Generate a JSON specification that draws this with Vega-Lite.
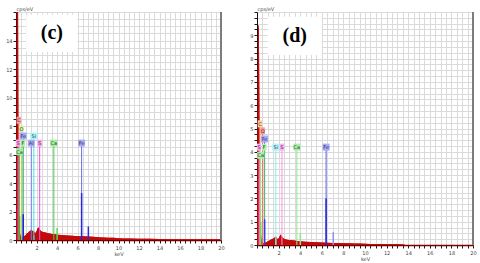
{
  "$schema": "https://vega.github.io/schema/vega-lite/v6.json",
  "padding": {"left": 5, "top": 5, "right": 5, "bottom": 0},
  "spacing": 24,
  "background": "white",
  "config": {
    "view": {"stroke": "#c4c4c4", "strokeWidth": 1},
    "font": "DejaVu Sans",
    "axis": {
      "labelFontSize": 5,
      "labelColor": "#444444",
      "labelFont": "DejaVu Sans",
      "tickColor": "#1a1a1a",
      "tickSize": 3,
      "gridColor": "#dadada",
      "gridWidth": 1,
      "titleFontSize": 5,
      "titleFontWeight": "normal",
      "titleColor": "#444444",
      "titleFont": "DejaVu Sans",
      "labelOverlap": false,
      "labelFlush": false,
      "format": "~g"
    }
  },
  "resolve": {"scale": {"color": "independent", "fill": "independent", "stroke": "independent"}},
  "datasets": {
    "specC": [
      {"keV": 0, "cps": 0}, {"keV": 0.04, "cps": 3}, {"keV": 0.08, "cps": 17}, {"keV": 0.2, "cps": 17}, {"keV": 0.24, "cps": 7}, {"keV": 0.28, "cps": 2.5}, {"keV": 0.32, "cps": 1.0}, {"keV": 0.38, "cps": 0.5}, {"keV": 0.45, "cps": 0.3}, {"keV": 0.55, "cps": 0.22}, {"keV": 0.65, "cps": 0.2}, {"keV": 0.75, "cps": 0.25}, {"keV": 0.85, "cps": 0.3}, {"keV": 0.95, "cps": 0.35}, {"keV": 1.05, "cps": 0.45}, {"keV": 1.15, "cps": 0.5}, {"keV": 1.25, "cps": 0.58}, {"keV": 1.35, "cps": 0.62}, {"keV": 1.45, "cps": 0.68}, {"keV": 1.55, "cps": 0.7}, {"keV": 1.65, "cps": 0.6}, {"keV": 1.75, "cps": 0.62}, {"keV": 1.85, "cps": 0.5}, {"keV": 1.95, "cps": 0.52}, {"keV": 2.05, "cps": 0.7}, {"keV": 2.15, "cps": 0.88}, {"keV": 2.25, "cps": 0.85}, {"keV": 2.35, "cps": 0.7}, {"keV": 2.5, "cps": 0.6}, {"keV": 2.7, "cps": 0.55}, {"keV": 2.9, "cps": 0.52}, {"keV": 3.1, "cps": 0.48}, {"keV": 3.3, "cps": 0.45}, {"keV": 3.5, "cps": 0.42}, {"keV": 3.8, "cps": 0.4}, {"keV": 4.1, "cps": 0.37}, {"keV": 4.4, "cps": 0.35}, {"keV": 4.7, "cps": 0.33}, {"keV": 5.0, "cps": 0.31}, {"keV": 5.5, "cps": 0.29}, {"keV": 6.0, "cps": 0.27}, {"keV": 6.5, "cps": 0.26}, {"keV": 7.0, "cps": 0.24}, {"keV": 7.5, "cps": 0.22}, {"keV": 8.0, "cps": 0.2}, {"keV": 8.5, "cps": 0.18}, {"keV": 9.0, "cps": 0.16}, {"keV": 9.5, "cps": 0.15}, {"keV": 10.0, "cps": 0.13}, {"keV": 10.5, "cps": 0.11}, {"keV": 11, "cps": 0.1}, {"keV": 12, "cps": 0.09}, {"keV": 13, "cps": 0.08}, {"keV": 14, "cps": 0.07}, {"keV": 15, "cps": 0.06}, {"keV": 16, "cps": 0.06}, {"keV": 17, "cps": 0.05}, {"keV": 18, "cps": 0.05}, {"keV": 19, "cps": 0.05}, {"keV": 20, "cps": 0.05}
    ],
    "specD": [
      {"keV": 0, "cps": 0}, {"keV": 0.04, "cps": 3}, {"keV": 0.08, "cps": 9.0}, {"keV": 0.12, "cps": 9.45}, {"keV": 0.17, "cps": 9.4}, {"keV": 0.21, "cps": 7}, {"keV": 0.25, "cps": 3.5}, {"keV": 0.3, "cps": 1.2}, {"keV": 0.36, "cps": 0.5}, {"keV": 0.42, "cps": 0.25}, {"keV": 0.5, "cps": 0.12}, {"keV": 0.6, "cps": 0.08}, {"keV": 0.75, "cps": 0.1}, {"keV": 0.9, "cps": 0.13}, {"keV": 1.0, "cps": 0.16}, {"keV": 1.1, "cps": 0.18}, {"keV": 1.2, "cps": 0.2}, {"keV": 1.3, "cps": 0.24}, {"keV": 1.4, "cps": 0.26}, {"keV": 1.5, "cps": 0.28}, {"keV": 1.6, "cps": 0.3}, {"keV": 1.7, "cps": 0.36}, {"keV": 1.8, "cps": 0.32}, {"keV": 1.9, "cps": 0.26}, {"keV": 2.0, "cps": 0.28}, {"keV": 2.1, "cps": 0.38}, {"keV": 2.2, "cps": 0.45}, {"keV": 2.3, "cps": 0.38}, {"keV": 2.4, "cps": 0.3}, {"keV": 2.6, "cps": 0.25}, {"keV": 2.8, "cps": 0.22}, {"keV": 3.0, "cps": 0.21}, {"keV": 3.3, "cps": 0.2}, {"keV": 3.6, "cps": 0.18}, {"keV": 4.0, "cps": 0.16}, {"keV": 4.5, "cps": 0.14}, {"keV": 5.0, "cps": 0.13}, {"keV": 5.5, "cps": 0.12}, {"keV": 6.0, "cps": 0.11}, {"keV": 6.5, "cps": 0.1}, {"keV": 7.0, "cps": 0.09}, {"keV": 7.5, "cps": 0.085}, {"keV": 8.0, "cps": 0.08}, {"keV": 8.5, "cps": 0.07}, {"keV": 9.0, "cps": 0.065}, {"keV": 9.5, "cps": 0.06}, {"keV": 10.0, "cps": 0.055}, {"keV": 10.5, "cps": 0.045}, {"keV": 11, "cps": 0.04}, {"keV": 12, "cps": 0.035}, {"keV": 13, "cps": 0.03}, {"keV": 13.6, "cps": 0.025}, {"keV": 13.7, "cps": 0}, {"keV": 20, "cps": 0}
    ],
    "markC": [
      {"el": "C", "keV": 0.277, "cps": 8.4},
      {"el": "O", "keV": 0.525, "cps": 7.8},
      {"el": "Fe", "keV": 0.705, "cps": 7.3},
      {"el": "S", "keV": 0.2, "cps": 6.8},
      {"el": "F", "keV": 0.677, "cps": 6.8},
      {"el": "Ca", "keV": 0.341, "cps": 6.2},
      {"el": "Al", "keV": 1.49, "cps": 6.8},
      {"el": "Si", "keV": 1.74, "cps": 7.3},
      {"el": "S", "keV": 2.31, "cps": 6.8},
      {"el": "Ca", "keV": 3.69, "cps": 6.8},
      {"el": "Fe", "keV": 6.4, "cps": 6.8}
    ],
    "markD": [
      {"el": "C", "keV": 0.277, "cps": 5.2},
      {"el": "O", "keV": 0.525, "cps": 4.9},
      {"el": "Fe", "keV": 0.705, "cps": 4.55},
      {"el": "S", "keV": 0.2, "cps": 4.2},
      {"el": "F", "keV": 0.677, "cps": 4.2},
      {"el": "Ca", "keV": 0.341, "cps": 3.85},
      {"el": "Si", "keV": 1.74, "cps": 4.2},
      {"el": "S", "keV": 2.31, "cps": 4.2},
      {"el": "Ca", "keV": 3.69, "cps": 4.2},
      {"el": "Fe", "keV": 6.4, "cps": 4.2}
    ],
    "peakC": [
      {"line": "CaL", "keV": 0.341, "cps": 1.7},
      {"line": "FeL", "keV": 0.705, "cps": 1.8},
      {"line": "SiKa", "keV": 1.74, "cps": 0.3},
      {"line": "CaKb", "keV": 4.01, "cps": 0.85},
      {"line": "FeKa", "keV": 6.4, "cps": 3.3},
      {"line": "FeKb", "keV": 7.06, "cps": 0.95}
    ],
    "peakD": [
      {"line": "CaL", "keV": 0.341, "cps": 1.0},
      {"line": "FeL", "keV": 0.705, "cps": 1.1},
      {"line": "SiKa", "keV": 1.74, "cps": 0.3},
      {"line": "CaKb", "keV": 4.01, "cps": 0.5},
      {"line": "FeKa", "keV": 6.4, "cps": 2.0},
      {"line": "FeKb", "keV": 7.06, "cps": 0.55}
    ]
  },
  "hconcat": [
    {
      "width": 205,
      "height": 228,
      "layer": [
        {
          "data": {"name": "specC"},
          "mark": {"type": "area", "color": "#c20a0a", "clip": true},
          "encoding": {
            "x": {"field": "keV", "type": "quantitative", "scale": {"domain": [0, 20], "nice": false, "zero": false},
              "axis": {"title": "keV", "titlePadding": 1, "labelPadding": 2, "domainColor": "#7a0000", "domainWidth": 1.5, "tickCount": 500, "format": "~g",
                "values": [0,0.5,1,1.5,2,2.5,3,3.5,4,4.5,5,5.5,6,6.5,7,7.5,8,8.5,9,9.5,10,10.5,11,11.5,12,12.5,13,13.5,14,14.5,15,15.5,16,16.5,17,17.5,18,18.5,19,19.5,20],
                "labelExpr": "datum.value % 2 == 0 && datum.value > 0 ? datum.label : ''"}},
            "y": {"field": "cps", "type": "quantitative", "scale": {"domain": [0, 16], "nice": false},
              "axis": {"title": "cps/eV", "titleAngle": 0, "titleAlign": "left", "titleBaseline": "bottom", "titleX": 0, "titleY": -1, "tickCount": 500, "format": "~g",
                "labelPadding": 1, "domainColor": "#111111",
                "values": [0,0.5,1,1.5,2,2.5,3,3.5,4,4.5,5,5.5,6,6.5,7,7.5,8,8.5,9,9.5,10,10.5,11,11.5,12,12.5,13,13.5,14,14.5,15,15.5,16],
                "labelExpr": "datum.value % 2 == 0 && datum.value < 16 ? datum.label : ''"}}
          }
        },
        {
          "data": {"values": [{"label": "(c)"}]},
          "mark": {"type": "rect", "fill": "white"},
          "encoding": {"x": {"datum": 1.0}, "x2": {"datum": 6.0}, "y": {"datum": 13.2}, "y2": {"datum": 15.8}}
        },
        {
          "data": {"values": [{"label": "(c)"}]},
          "mark": {"type": "text", "font": "Liberation Serif", "fontWeight": "bold", "fontSize": 20, "color": "#000000", "baseline": "middle", "align": "center"},
          "encoding": {"x": {"datum": 3.5}, "y": {"datum": 14.5}, "text": {"field": "label"}}
        },
        {
          "data": {"name": "specC"},
          "mark": {"type": "area", "color": "#c20a0a", "clip": true},
          "encoding": {"x": {"field": "keV", "type": "quantitative"}, "y": {"field": "cps", "type": "quantitative"}}
        },
        {
          "data": {"name": "markC"},
          "mark": {"type": "rule", "strokeWidth": 1},
          "encoding": {
            "x": {"field": "keV", "type": "quantitative"},
            "y": {"field": "cps", "type": "quantitative"},
            "y2": {"datum": 0},
            "color": {"field": "el", "type": "nominal", "legend": null,
              "scale": {"domain": ["C","O","Fe","S","F","Ca","Al","Si"], "range": ["#ff5a5a","#b5d84a","#6b6bec","#ee4fe0","#55dd55","#44d044","#7a7ae6","#3fe3ef"]}}
          }
        },
        {
          "data": {"name": "peakC"},
          "mark": {"type": "rule", "strokeWidth": 1.5},
          "encoding": {
            "x": {"field": "keV", "type": "quantitative"},
            "y": {"field": "cps", "type": "quantitative"},
            "y2": {"datum": 0},
            "stroke": {"field": "line", "type": "nominal", "legend": null,
              "scale": {"domain": ["CaL","FeL","SiKa","CaKb","FeKa","FeKb"], "range": ["#2fc22f","#1f1fd6","#30c8d0","#55dd55","#2323e0","#2a2ae6"]}}
          }
        },
        {
          "data": {"name": "markC"},
          "transform": [{"filter": "length(datum.el) == 1"}],
          "mark": {"type": "point", "filled": true, "opacity": 1, "shape": "M-0.65,-1L0.65,-1L0.65,1L-0.65,1Z", "size": 49},
          "encoding": {
            "x": {"field": "keV", "type": "quantitative"},
            "y": {"field": "cps", "type": "quantitative"},
            "fill": {"field": "el", "type": "nominal", "legend": null,
              "scale": {"domain": ["C","O","Fe","S","F","Ca","Al","Si"], "range": ["#ff9f9f","#d2f59e","#a9a9ff","#ffa6f5","#a6f5a6","#9ff09f","#a9a9ff","#a6f7ff"]}}
          }
        },
        {
          "data": {"name": "markC"},
          "transform": [{"filter": "length(datum.el) == 2"}],
          "mark": {"type": "point", "filled": true, "opacity": 1, "shape": "square", "size": 49},
          "encoding": {
            "x": {"field": "keV", "type": "quantitative"},
            "y": {"field": "cps", "type": "quantitative"},
            "fill": {"field": "el", "type": "nominal", "legend": null}
          }
        },
        {
          "data": {"name": "markC"},
          "mark": {"type": "text", "fontSize": 5, "color": "#333333", "baseline": "middle", "align": "center", "font": "DejaVu Sans"},
          "encoding": {
            "x": {"field": "keV", "type": "quantitative"},
            "y": {"field": "cps", "type": "quantitative"},
            "text": {"field": "el"}
          }
        },
        {
          "data": {"values": [{"edge": "right"}]},
          "mark": {"type": "rule", "color": "#7c7c7c", "strokeWidth": 2},
          "encoding": {"x": {"datum": 20}}
        }
      ]
    },
    {
      "width": 216,
      "height": 233,
      "layer": [
        {
          "data": {"name": "specD"},
          "mark": {"type": "area", "color": "#c20a0a", "clip": true},
          "encoding": {
            "x": {"field": "keV", "type": "quantitative", "scale": {"domain": [0, 20], "nice": false, "zero": false},
              "axis": {"title": "keV", "titlePadding": 1, "labelPadding": 2, "domainColor": "#7a0000", "domainWidth": 1.5, "tickCount": 500, "format": "~g",
                "values": [0,0.5,1,1.5,2,2.5,3,3.5,4,4.5,5,5.5,6,6.5,7,7.5,8,8.5,9,9.5,10,10.5,11,11.5,12,12.5,13,13.5,14,14.5,15,15.5,16,16.5,17,17.5,18,18.5,19,19.5,20],
                "labelExpr": "datum.value % 2 == 0 && datum.value > 0 ? datum.label : ''"}},
            "y": {"field": "cps", "type": "quantitative", "scale": {"domain": [0, 10], "nice": false},
              "axis": {"title": "cps/eV", "titleAngle": 0, "titleAlign": "left", "titleBaseline": "bottom", "titleX": 0, "titleY": -1, "tickCount": 500, "format": "~g",
                "labelPadding": 1, "domainColor": "#111111",
                "values": [0,0.25,0.5,0.75,1,1.25,1.5,1.75,2,2.25,2.5,2.75,3,3.25,3.5,3.75,4,4.25,4.5,4.75,5,5.25,5.5,5.75,6,6.25,6.5,6.75,7,7.25,7.5,7.75,8,8.25,8.5,8.75,9,9.25,9.5,9.75,10],
                "labelExpr": "datum.value % 1 == 0 && datum.value < 10 ? datum.label : ''"}}
          }
        },
        {
          "data": {"values": [{"label": "(d)"}]},
          "mark": {"type": "rect", "fill": "white"},
          "encoding": {"x": {"datum": 1.0}, "x2": {"datum": 6.0}, "y": {"datum": 8.15}, "y2": {"datum": 9.8}}
        },
        {
          "data": {"values": [{"label": "(d)"}]},
          "mark": {"type": "text", "font": "Liberation Serif", "fontWeight": "bold", "fontSize": 20, "color": "#000000", "baseline": "middle", "align": "center"},
          "encoding": {"x": {"datum": 3.5}, "y": {"datum": 8.95}, "text": {"field": "label"}}
        },
        {
          "data": {"name": "specD"},
          "mark": {"type": "area", "color": "#c20a0a", "clip": true},
          "encoding": {"x": {"field": "keV", "type": "quantitative"}, "y": {"field": "cps", "type": "quantitative"}}
        },
        {
          "data": {"name": "markD"},
          "mark": {"type": "rule", "strokeWidth": 1},
          "encoding": {
            "x": {"field": "keV", "type": "quantitative"},
            "y": {"field": "cps", "type": "quantitative"},
            "y2": {"datum": 0},
            "color": {"field": "el", "type": "nominal", "legend": null,
              "scale": {"domain": ["C","O","Fe","S","F","Ca","Al","Si"], "range": ["#f0a060","#ff6060","#5a5ae8","#ff90e8","#4fcf4f","#90e890","#7a7ae6","#90e8f0"]}}
          }
        },
        {
          "data": {"name": "peakD"},
          "mark": {"type": "rule", "strokeWidth": 1.5},
          "encoding": {
            "x": {"field": "keV", "type": "quantitative"},
            "y": {"field": "cps", "type": "quantitative"},
            "y2": {"datum": 0},
            "stroke": {"field": "line", "type": "nominal", "legend": null,
              "scale": {"domain": ["CaL","FeL","SiKa","CaKb","FeKa","FeKb"], "range": ["#66dd66","#3a3ae0","#7fd8e0","#88e888","#2323e0","#8d8dff"]}}
          }
        },
        {
          "data": {"name": "markD"},
          "transform": [{"filter": "length(datum.el) == 1"}],
          "mark": {"type": "point", "filled": true, "opacity": 1, "shape": "M-0.65,-1L0.65,-1L0.65,1L-0.65,1Z", "size": 49},
          "encoding": {
            "x": {"field": "keV", "type": "quantitative"},
            "y": {"field": "cps", "type": "quantitative"},
            "fill": {"field": "el", "type": "nominal", "legend": null,
              "scale": {"domain": ["C","O","Fe","S","F","Ca","Al","Si"], "range": ["#ffcf9f","#ff9a9a","#a9a9ff","#ffb0f5","#b0f5b0","#a8f0a8","#a9a9ff","#b0f3ff"]}}
          }
        },
        {
          "data": {"name": "markD"},
          "transform": [{"filter": "length(datum.el) == 2"}],
          "mark": {"type": "point", "filled": true, "opacity": 1, "shape": "square", "size": 49},
          "encoding": {
            "x": {"field": "keV", "type": "quantitative"},
            "y": {"field": "cps", "type": "quantitative"},
            "fill": {"field": "el", "type": "nominal", "legend": null}
          }
        },
        {
          "data": {"name": "markD"},
          "mark": {"type": "text", "fontSize": 5, "color": "#333333", "baseline": "middle", "align": "center", "font": "DejaVu Sans"},
          "encoding": {
            "x": {"field": "keV", "type": "quantitative"},
            "y": {"field": "cps", "type": "quantitative"},
            "text": {"field": "el"}
          }
        },
        {
          "data": {"values": [{"edge": "right"}]},
          "mark": {"type": "rule", "color": "#7c7c7c", "strokeWidth": 2},
          "encoding": {"x": {"datum": 20}}
        }
      ]
    }
  ]
}
